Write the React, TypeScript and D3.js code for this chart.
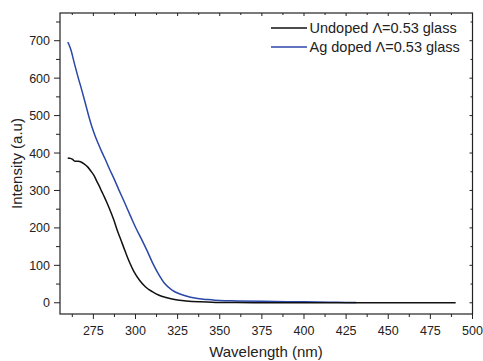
import React from "react";
import * as d3 from "d3";

const undopedWl = [259.8, 261, 262.7, 263.7, 265.5, 267.7, 269.5, 271.6, 273.5, 275.6, 277, 278.6, 280, 281.5, 283, 284.5, 287.1, 289, 291.4, 294, 296.4, 299, 302.3, 306, 310.2, 314, 318.1, 324, 330, 338, 347.8, 360, 380, 400, 430, 460, 490];
const undopedVal = [387, 386, 383, 378.5, 378, 376, 371, 363, 352, 338, 325, 311, 297, 283, 268, 252, 222, 196, 167, 136, 109, 84, 61, 42, 29, 20, 14, 8, 5, 2.5, 1, 0.5, 0.3, 0.2, 0.1, 0, 0];

const agWl = [259.8, 260.5, 261.7, 263.7, 265.7, 268, 270, 272, 274, 276, 278, 280, 282, 284.5, 287.5, 290, 293, 297.4, 300.3, 304, 307, 310.2, 313.5, 317.2, 322, 330, 336, 342, 350, 360, 375, 390, 400, 415, 425, 431];
const agVal = [696, 690, 675, 640, 606, 570, 537, 503, 472, 446, 424, 403, 384, 358, 329, 303, 273, 228, 199, 166, 138, 106, 78, 52, 33, 18, 12, 9, 6, 5, 4, 3, 2.5, 1.5, 1, 0.5];

const xTicks = [275, 300, 325, 350, 375, 400, 425, 450, 475, 500];
const yTicks = [0, 100, 200, 300, 400, 500, 600, 700];
const seriesNames = ["Undoped \u039B=0.53 glass", "Ag doped \u039B=0.53 glass"];
const seriesColors = ["#111111", "#2b47a8"];

const W = 483, H = 361;
const L = 60, R = 472.5, T = 13, B = 314;

export default function App() {
  const x = d3.scaleLinear().domain([255.2, 500]).range([L, R]);
  const y = d3.scaleLinear().domain([-30, 774]).range([B, T]);
  const line = d3.line<[number, number]>().x(d => x(d[0])).y(d => y(d[1])).curve(d3.curveMonotoneX);
  const undoped = undopedWl.map((w, i) => [w, undopedVal[i]] as [number, number]);
  const ag = agWl.map((w, i) => [w, agVal[i]] as [number, number]);

  const xMinor = d3.range(262.5, 500, 12.5).filter(v => !xTicks.includes(v));
  const yMinor = d3.range(50, 774, 100);
  const font = "Liberation Sans, Arial, sans-serif";
  const txt = "#222";

  return (
    <div style={{ position: "fixed", left: 0, top: 0 }}>
      <svg width={W} height={H} style={{ display: "block", background: "#fff" }}>
        <defs>
          <clipPath id="plot"><rect x={L} y={T} width={R - L} height={B - T} /></clipPath>
        </defs>
        <g clipPath="url(#plot)" fill="none" strokeWidth={1.5}>
          <path d={line(ag) || ""} stroke={seriesColors[1]} />
          <path d={line(undoped) || ""} stroke={seriesColors[0]} />
        </g>
        <rect x={L} y={T} width={R - L} height={B - T} fill="none" stroke="#222" strokeWidth={1.2} />
        {xTicks.map(t => (
          <g key={"xt" + t}>
            <line x1={x(t)} x2={x(t)} y1={B} y2={B + 5} stroke="#222" strokeWidth={1} />
            <line x1={x(t)} x2={x(t)} y1={T} y2={T + 3} stroke="#222" strokeWidth={1} />
            <text x={x(t)} y={335} textAnchor="middle" fontFamily={font} fontSize={12.5} fill={txt}>{t}</text>
          </g>
        ))}
        {xMinor.map(t => (
          <g key={"xm" + t}>
            <line x1={x(t)} x2={x(t)} y1={B} y2={B + 3} stroke="#222" strokeWidth={1} />
            <line x1={x(t)} x2={x(t)} y1={T} y2={T + 2} stroke="#222" strokeWidth={1} />
          </g>
        ))}
        {yTicks.map(t => (
          <g key={"yt" + t}>
            <line x1={L - 6} x2={L} y1={y(t)} y2={y(t)} stroke="#222" strokeWidth={1} />
            <line x1={R - 3} x2={R} y1={y(t)} y2={y(t)} stroke="#222" strokeWidth={1} />
            <text x={50} y={y(t) + 4.5} textAnchor="end" fontFamily={font} fontSize={12.5} fill={txt}>{t}</text>
          </g>
        ))}
        {yMinor.map(t => (
          <g key={"ym" + t}>
            <line x1={L - 4} x2={L} y1={y(t)} y2={y(t)} stroke="#222" strokeWidth={1} />
            <line x1={R - 2} x2={R} y1={y(t)} y2={y(t)} stroke="#222" strokeWidth={1} />
          </g>
        ))}
        <text x={266} y={357} textAnchor="middle" fontFamily={font} fontSize={15} fill={txt}>Wavelength (nm)</text>
        <text transform={`translate(22,${(T + B) / 2}) rotate(-90)`} textAnchor="middle" fontFamily={font} fontSize={15} fill={txt}>Intensity (a.u)</text>
        {seriesNames.map((n, i) => (
          <g key={n}>
            <line x1={271} x2={307} y1={28 + i * 19} y2={28 + i * 19} stroke={seriesColors[i]} strokeWidth={1.5} />
            <text x={309.5} y={28 + i * 19 + 5} fontFamily={font} fontSize={14.5} fill={txt}>{n}</text>
          </g>
        ))}
      </svg>
    </div>
  );
}
